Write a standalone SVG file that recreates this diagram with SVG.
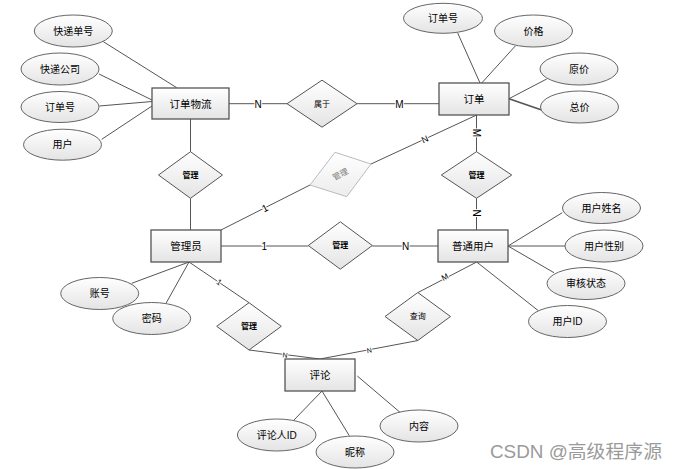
<svg xmlns="http://www.w3.org/2000/svg" width="678" height="469" viewBox="0 0 678 469">
<defs>
<linearGradient id="g" x1="0" y1="0" x2="0" y2="1">
<stop offset="0" stop-color="#ffffff"/>
<stop offset="1" stop-color="#e4e4e4"/>
</linearGradient>
<linearGradient id="gg" x1="0" y1="0" x2="0" y2="1">
<stop offset="0" stop-color="#ffffff"/>
<stop offset="1" stop-color="#ececec"/>
</linearGradient>
<style>
text{font-family:"Liberation Sans","Noto Sans CJK SC",sans-serif;fill:#000;text-anchor:middle;dominant-baseline:central}
.ent rect{fill:url(#g);stroke:#555;stroke-width:1.3}
.ent text{font-size:10.5px}
.att ellipse{fill:url(#g);stroke:#666;stroke-width:1}
.att text{font-size:10px}
.rel polygon{fill:url(#g);stroke:#555;stroke-width:1}
.rel text{font-size:8px}
.rel .b{font-weight:bold}
#conn line{stroke:#555;stroke-width:1}
.card{font-size:10px;paint-order:stroke;stroke:#fff;stroke-width:2px}
.sm{font-size:7px}
</style>
</defs>
<rect width="678" height="469" fill="#fff"/>

<g id="conn">
<line x1="103.3" y1="41.7" x2="176.7" y2="87.7"/>
<line x1="99" y1="74" x2="152" y2="100"/>
<line x1="99.3" y1="106" x2="152" y2="101.5"/>
<line x1="101.7" y1="139.3" x2="152" y2="106"/>
<line x1="229" y1="103.7" x2="287" y2="103.7"/>
<line x1="357" y1="103.7" x2="439" y2="103.7"/>
<line x1="457.7" y1="33" x2="480" y2="83"/>
<line x1="515.3" y1="46" x2="481.7" y2="83"/>
<line x1="546.7" y1="79" x2="509" y2="98.7"/>
<line x1="509" y1="98.7" x2="541.7" y2="110" style="stroke-width:1.6"/>
<line x1="476.5" y1="115" x2="476.5" y2="151.7"/>
<line x1="476.5" y1="198.3" x2="476.5" y2="230"/>
<line x1="476.7" y1="115" x2="371" y2="164"/>
<line x1="310" y1="185" x2="221" y2="230"/>
<line x1="190.5" y1="119" x2="190.5" y2="151.7"/>
<line x1="190.5" y1="198.3" x2="190.5" y2="230"/>
<line x1="221" y1="246" x2="308.3" y2="246"/>
<line x1="372.3" y1="246" x2="438" y2="246"/>
<line x1="508" y1="246" x2="562.3" y2="212.7"/>
<line x1="508" y1="246" x2="565" y2="246"/>
<line x1="508" y1="246" x2="554" y2="272.7"/>
<line x1="476.7" y1="262" x2="538.3" y2="310.7"/>
<line x1="476.7" y1="262" x2="418" y2="292.5"/>
<line x1="418" y1="340.5" x2="320" y2="359"/>
<line x1="189" y1="262" x2="249" y2="302.7"/>
<line x1="249" y1="350" x2="320" y2="359"/>
<line x1="131.7" y1="283.3" x2="189" y2="262"/>
<line x1="166" y1="303.3" x2="189" y2="262"/>
<line x1="293.3" y1="420.7" x2="322" y2="391"/>
<line x1="322" y1="391" x2="349.3" y2="435.7"/>
<line x1="357.3" y1="376" x2="400" y2="412.3"/>
<text class="card" x="258" y="104">N</text>
<text class="card" x="399.5" y="104">M</text>
<text class="card" transform="translate(476.7 133) rotate(90)">M</text>
<text class="card" transform="translate(476.7 213) rotate(90)">N</text>
<text class="card" style="font-size:9px" transform="translate(425 139.3) rotate(-25)">N</text>
<text class="card" transform="translate(265 208) rotate(-27)">1</text>
<text class="card" x="264.3" y="246">1</text>
<text class="card" x="405.7" y="246">N</text>
<text class="card" style="font-size:8px" transform="translate(445 277.3) rotate(-28)">M</text>
<text class="card sm" transform="translate(369.3 350.3) rotate(-11)">N</text>
<text class="card" style="font-size:8px" transform="translate(219 282.3) rotate(34)">1</text>
<text class="card sm" transform="translate(285 355) rotate(7.5)">N</text>
</g>

<g id="e-wuliu" class="ent"><rect x="152" y="88" width="77" height="31"/><text x="190.5" y="103.5">订单物流</text></g>
<g id="e-dingdan" class="ent"><rect x="439" y="83" width="70" height="32"/><text x="474" y="99">订单</text></g>
<g id="e-admin" class="ent"><rect x="151" y="230" width="70" height="32"/><text x="186" y="246">管理员</text></g>
<g id="e-user" class="ent"><rect x="438" y="230" width="70" height="32"/><text x="473" y="246">普通用户</text></g>
<g id="e-pinglun" class="ent"><rect x="285" y="359" width="70" height="32"/><text x="320" y="375">评论</text></g>

<g id="r-shuyu" class="rel"><polygon points="287,103.7 322,80.2 357,103.7 322,127.2"/><text x="322" y="104">属于</text></g>
<g id="r-guanli1" class="rel"><polygon points="158.5,175 190.5,151.7 222.5,175 190.5,198.3"/><text class="b" x="190.5" y="175">管理</text></g>
<g id="r-guanli2" class="rel"><polygon points="441.3,175 476.5,151.7 511.7,175 476.5,198.3"/><text class="b" x="476.5" y="175">管理</text></g>
<g id="r-guanli3" class="rel"><polygon points="308.3,245.5 340.3,221.8 372.3,245.5 340.3,269.2"/><text class="b" x="340.3" y="245.5">管理</text></g>
<g id="r-guanli4" class="rel"><polygon points="216.7,326.3 249,302.7 281.3,326.3 249,350"/><text class="b" x="249" y="326.3">管理</text></g>
<g id="r-chaxun" class="rel"><polygon points="385,316.5 417.8,292.5 450.5,316.5 417.8,340.5"/><text x="417.8" y="316.5">查询</text></g>
<g id="r-guanli5" class="rel"><polygon points="335,152.3 371,164 346.7,196.7 310,185" style="fill:url(#gg);stroke:#bbb"/><text transform="translate(340.5 174.5) rotate(-28)" style="fill:#777">管理</text></g>

<g id="a-kddh" class="att"><ellipse cx="73.3" cy="31" rx="39" ry="16"/><text x="73.3" y="31">快递单号</text></g>
<g id="a-kdgs" class="att"><ellipse cx="60" cy="69" rx="39" ry="16"/><text x="60" y="69">快递公司</text></g>
<g id="a-ddh1" class="att"><ellipse cx="60" cy="107" rx="39" ry="15.5"/><text x="60" y="107">订单号</text></g>
<g id="a-yh" class="att"><ellipse cx="62.5" cy="144.7" rx="39" ry="15.5"/><text x="62.5" y="144.7">用户</text></g>
<g id="a-ddh2" class="att"><ellipse cx="443" cy="18.3" rx="39.5" ry="15"/><text x="443" y="18.3">订单号</text></g>
<g id="a-jg" class="att"><ellipse cx="533.5" cy="31" rx="39" ry="16"/><text x="533.5" y="31">价格</text></g>
<g id="a-yj" class="att"><ellipse cx="579" cy="69" rx="39" ry="16"/><text x="579" y="69">原价</text></g>
<g id="a-zj" class="att"><ellipse cx="579.5" cy="107" rx="39" ry="16"/><text x="579.5" y="107">总价</text></g>
<g id="a-yhxm" class="att"><ellipse cx="601.5" cy="208" rx="39" ry="15.5"/><text x="601.5" y="208">用户姓名</text></g>
<g id="a-yhxb" class="att"><ellipse cx="604" cy="246" rx="39" ry="16"/><text x="604" y="246">用户性别</text></g>
<g id="a-shzt" class="att"><ellipse cx="586" cy="283.5" rx="39" ry="16"/><text x="586" y="283.5">审核状态</text></g>
<g id="a-yhid" class="att"><ellipse cx="567.5" cy="321.5" rx="39" ry="16"/><text x="567.5" y="321.5">用户ID</text></g>
<g id="a-zh" class="att"><ellipse cx="99.7" cy="293.5" rx="39" ry="16"/><text x="99.7" y="293.5">账号</text></g>
<g id="a-mm" class="att"><ellipse cx="151.7" cy="318.5" rx="39" ry="16"/><text x="151.7" y="318.5">密码</text></g>
<g id="a-plrid" class="att"><ellipse cx="276.7" cy="435" rx="39.3" ry="16"/><text x="276.7" y="435">评论人ID</text></g>
<g id="a-nc" class="att"><ellipse cx="355" cy="452" rx="39" ry="16"/><text x="355" y="452">昵称</text></g>
<g id="a-nr" class="att"><ellipse cx="419" cy="426" rx="39" ry="16"/><text x="419" y="426">内容</text></g>

<text x="576" y="452" style="font-size:18px;fill:#9a9a9a" textLength="172" lengthAdjust="spacingAndGlyphs">CSDN @高级程序源</text>
</svg>
